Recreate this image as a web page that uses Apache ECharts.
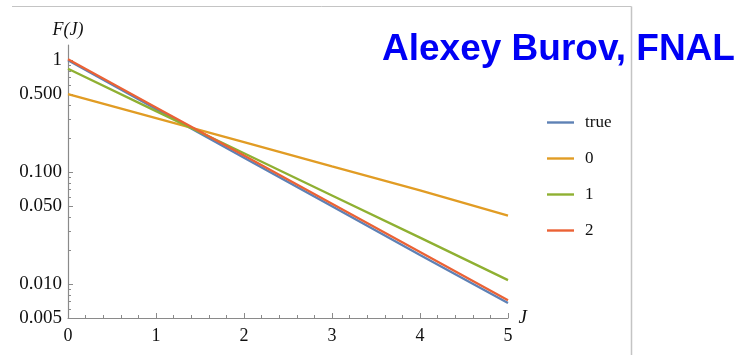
<!DOCTYPE html>
<html>
<head>
<meta charset="utf-8">
<script src="https://cdn.jsdelivr.net/npm/echarts@6/dist/echarts.min.js"></script>
<style>html,body{margin:0;padding:0;background:#fff}#c{width:738px;height:355px}</style>
</head>
<body>
<div id="c"></div>
<script>
var J = [0, 1, 2, 3, 4, 5];
var seriesNames = ['true', '0', '1', '2'];
var valTrue = [1.0, 0.368, 0.135, 0.0498, 0.0183, 0.0068];
var val0 = [0.5, 0.305, 0.186, 0.113, 0.069, 0.041];
var val1 = [0.84, 0.352, 0.148, 0.0621, 0.0261, 0.0109];
var val2 = [1.02, 0.379, 0.141, 0.0523, 0.0194, 0.0072];
var yMajorTicks = [0.005, 0.01, 0.05, 0.1, 0.5, 1];
var yTickLabels = ['0.005', '0.010', '0.050', '0.100', '0.500', '1'];
var yMinorTicks = [0.006,0.007,0.008,0.009,0.02,0.03,0.04,0.06,0.07,0.08,0.09,0.2,0.3,0.4,0.6,0.7,0.8,0.9];
var colors = ['#5E81B5', '#E19C24', '#8FB032', '#EB6235'];

function pairs(vals){ return J.map(function(x,i){ return [x, vals[i]]; }); }
var allVals = [valTrue, val0, val1, val2];

var chart = echarts.init(document.getElementById('c'), null, {renderer:'canvas'});
var axisColor = '#8a8a8a';
var serif = 'Liberation Serif';
chart.setOption({
  animation: false,
  color: colors,
  title: {
    text: 'Alexey Burov, FNAL', left: 382, top: 31, padding: 0,
    textStyle: {fontFamily: 'Liberation Sans', fontWeight: 'bold', fontSize: 37, color: '#0000F5'}
  },
  legend: {
    orient: 'vertical', left: 547, top: 114, padding: 0, itemWidth: 27, itemHeight: 14, itemGap: 19,
    icon: 'path://M0,0 L27,0 L27,2.4 L0,2.4 Z',
    data: seriesNames,
    textStyle: {fontFamily: serif, fontSize: 17, color: '#111', padding: [0,0,0,6]}
  },
  grid: {left: 68, right: 230, top: 45, bottom: 37, containLabel: false},
  xAxis: {
    type: 'value', min: 0, max: 5, interval: 1,
    name: 'J', nameLocation: 'end', nameGap: 6,
    nameTextStyle: {fontFamily: serif, fontStyle: 'italic', fontSize: 19, color: '#111', verticalAlign: 'middle', padding:[0,0,8,0]},
    axisLine: {lineStyle: {color: axisColor, width: 1.2}},
    axisTick: {inside: true, length: 5, lineStyle: {color: axisColor}},
    minorTick: {show: true, splitNumber: 5, length: 3, lineStyle: {color: axisColor}},
    axisLabel: {fontFamily: serif, fontSize: 18, color: '#111', margin: 9},
    splitLine: {show: false}
  },
  yAxis: [{
    type: 'log', min: 0.005, max: 1.37,
    name: 'F(J)', nameLocation: 'end', nameGap: 6,
    nameTextStyle: {fontFamily: serif, fontStyle: 'italic', fontSize: 18, color: '#111', padding: [0,0,0,0]},
    axisLine: {show: true, lineStyle: {color: axisColor, width: 1.2}},
    axisTick: {show: true, inside: true, length: 5, customValues: yMajorTicks, lineStyle: {color: axisColor}},
    axisLabel: {show: true, customValues: yMajorTicks, fontFamily: serif, fontSize: 19, color: '#111', margin: 6,
      formatter: function(v){ var i = yMajorTicks.findIndex(function(t){return Math.abs(t-v)/t < 1e-6;}); return i >= 0 ? yTickLabels[i] : ''; }},
    splitLine: {show: false}
  }, {
    type: 'log', min: 0.005, max: 1.37, position: 'left',
    axisLine: {show: false},
    axisTick: {show: true, inside: true, length: 3, customValues: yMinorTicks, lineStyle: {color: axisColor}},
    axisLabel: {show: false},
    splitLine: {show: false}
  }],
  graphic: [
    {type: 'line', shape: {x1: 12, y1: 6.5, x2: 631.5, y2: 6.5}, style: {stroke: '#c4c4c4', lineWidth: 1}, silent: true},
    {type: 'line', shape: {x1: 631.5, y1: 6.5, x2: 631.5, y2: 355}, style: {stroke: '#c4c4c4', lineWidth: 1.5}, silent: true}
  ],
  series: seriesNames.map(function(n, i){
    return {name: n, type: 'line', data: pairs(allVals[i]), symbol: 'none', yAxisIndex: 0,
      lineStyle: {width: 2.3, color: colors[i]}, itemStyle: {color: colors[i]}, z: 2 + i};
  })
});
</script>
</body>
</html>
